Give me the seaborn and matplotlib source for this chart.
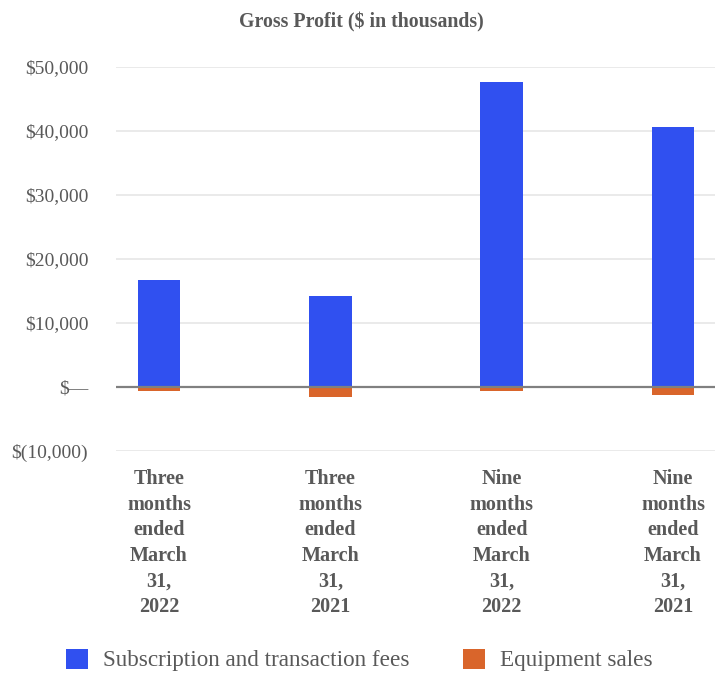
import matplotlib
matplotlib.use("Agg")
import matplotlib.pyplot as plt
import seaborn as sns
import pandas as pd
from matplotlib.patches import Patch
from matplotlib.ticker import FuncFormatter

periods = ["Three\nmonths\nended\nMarch\n31,\n2022",
           "Three\nmonths\nended\nMarch\n31,\n2021",
           "Nine\nmonths\nended\nMarch\n31,\n2022",
           "Nine\nmonths\nended\nMarch\n31,\n2021"]
subscription = [16700, 14200, 47700, 40700]
equipment = [-700, -1500, -700, -1250]
series_names = ["Subscription and transaction fees", "Equipment sales"]
colors = ["#3050F0", "#D9652B"]
title = "Gross Profit ($ in thousands)"
yticks = [-10000, 0, 10000, 20000, 30000, 40000, 50000]

df = pd.DataFrame({
    "period": periods * 2,
    "value": subscription + equipment,
    "series": [series_names[0]] * 4 + [series_names[1]] * 4,
})

sns.set_style("white")
plt.rcParams["font.family"] = ["Liberation Serif", "DejaVu Serif"]

fig = plt.figure(figsize=(7.15, 6.75), dpi=100)
ax = fig.add_axes([116 / 715, (675 - 451) / 675, 1 - 116 / 715, (451 - 67) / 675])

sns.barplot(data=df, x="period", y="value", hue="series", dodge=False,
            palette=colors, width=0.25, order=periods, hue_order=series_names,
            ax=ax, legend=False, saturation=1, linewidth=0)

ax.set_xlim(-0.251, 3.245)
ax.set_ylim(-10000, 50000)
ax.set_yticks(yticks)

def fmt(v, pos):
    if v == 0:
        return "$\u2014"
    if v < 0:
        return "$({:,.0f})".format(-v)
    return "${:,.0f}".format(v)

ax.yaxis.set_major_formatter(FuncFormatter(fmt))
ax.yaxis.grid(True, color="#e6e6e6", linewidth=1.2)
ax.set_axisbelow(True)
ax.axhline(0, color="#808080", linewidth=1.6, zorder=3)
for s in ax.spines.values():
    s.set_visible(False)

ax.tick_params(axis="y", length=0, pad=20, labelsize=14, labelcolor="#595959")
ax.tick_params(axis="x", length=0, pad=13, labelsize=14.5, labelcolor="#595959")
for lab in ax.get_xticklabels():
    lab.set_fontweight("bold")
    lab.set_linespacing(1.37)
ax.set_xlabel("")
ax.set_ylabel("")

fig.text(361 / 715, 1 - 22 / 675, title, ha="center", va="center",
         fontsize=14.3, fontweight="bold", color="#595959")

handles = [Patch(facecolor=c, edgecolor="none") for c in colors]
fig.legend(handles, series_names, loc="center", bbox_to_anchor=(0.503, 1 - 660 / 675),
           ncol=2, frameon=False, fontsize=16.7, handlelength=0.95, handleheight=0.95,
           handletextpad=0.65, columnspacing=2.3, labelcolor="#595959")

fig.savefig("out.png", dpi=100)
